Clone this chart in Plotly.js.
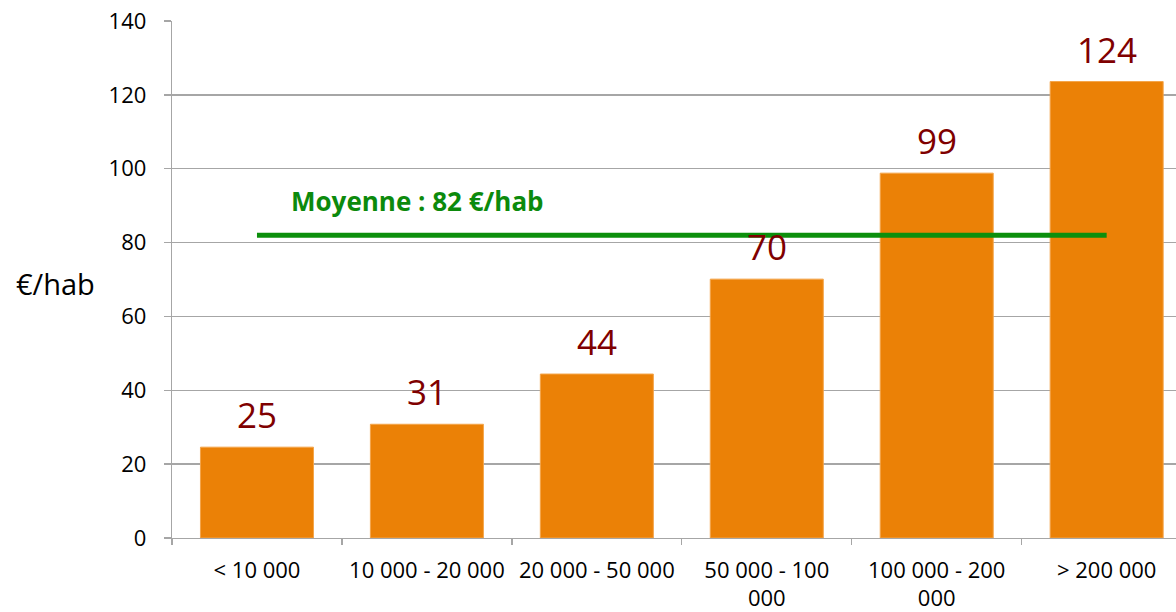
<!DOCTYPE html>
<html>
<head>
<meta charset="utf-8">
<script src="https://cdn.plot.ly/plotly-3.0.1.min.js"></script>
<style>html,body{margin:0;padding:0;background:#fff;}#chart{width:1176px;height:612px;}</style>
</head>
<body>
<div id="chart"></div>
<script>
const categories = ["< 10 000", "10 000 - 20 000", "20 000 - 50 000", "50 000 - 100<br>000", "100 000 - 200<br>000", "> 200 000"];
const values = [24.6, 30.8, 44.4, 70.1, 98.8, 123.6];
const meanValue = 82;
const meanLabel = "Moyenne : 82 €/hab";
const yTickVals = [0, 20, 40, 60, 80, 100, 120, 140];
const yTitle = "€/hab";

const FONT = "'Open Sans', 'Noto Sans', sans-serif";

const bars = {
  type: 'bar',
  x: categories,
  y: values,
  marker: {color: '#EB8106', line: {color: '#F4A54A', width: 1}},
  hoverinfo: 'skip'
};

const meanLine = {
  type: 'scatter',
  mode: 'lines',
  x: [categories[0], categories[categories.length - 1]],
  y: [meanValue, meanValue],
  line: {color: '#0C8F0C', width: 5},
  hoverinfo: 'skip'
};

const annotations = values.map((v, i) => ({
  x: categories[i], y: v, xref: 'x', yref: 'y',
  text: String(Math.round(v)),
  showarrow: false, yanchor: 'bottom', yshift: 7,
  font: {family: FONT, size: 35, color: '#7F0000'}
}));
annotations.push({
  x: 0.19, y: 91.2, xref: 'x', yref: 'y',
  text: '<b>' + meanLabel + '</b>',
  showarrow: false, xanchor: 'left', yanchor: 'middle',
  font: {family: FONT, size: 26, color: '#0C8A0C'}
});
annotations.push({
  x: -0.1165, y: 0.4926, xref: 'paper', yref: 'paper',
  text: yTitle, showarrow: false, xanchor: 'center', yanchor: 'middle',
  font: {family: FONT, size: 29, color: '#000'}
});

const layout = {
  width: 1176, height: 612,
  margin: {l: 172, r: 0, t: 21, b: 74, pad: 0},
  paper_bgcolor: '#fff', plot_bgcolor: '#fff',
  showlegend: false,
  bargap: 0.335,
  font: {family: FONT, size: 22, color: '#000'},
  xaxis: {
    type: 'category',
    range: [-0.5, 5.408],
    tickson: 'boundaries',
    ticks: 'outside', ticklen: 6, tickcolor: '#A6A6A6', tickwidth: 1.3,
    ticklabelstandoff: 12,
    showline: true, linecolor: '#A6A6A6', linewidth: 1.3,
    showgrid: false, zeroline: false,
    tickfont: {family: FONT, size: 22, color: '#000'},
    fixedrange: true
  },
  yaxis: {
    range: [0, 140],
    tickvals: yTickVals,
    ticks: 'outside', ticklen: 7, tickcolor: '#A6A6A6', tickwidth: 1.3,
    ticklabelstandoff: 13,
    showline: true, linecolor: '#A6A6A6', linewidth: 1.3,
    showgrid: true, gridcolor: '#A6A6A6', gridwidth: 1.3,
    zeroline: false,
    tickfont: {family: FONT, size: 22, color: '#000'},
    fixedrange: true
  },
  annotations: annotations
};

Plotly.newPlot('chart', [bars, meanLine], layout, {displayModeBar: false, staticPlot: true});
</script>
</body>
</html>
